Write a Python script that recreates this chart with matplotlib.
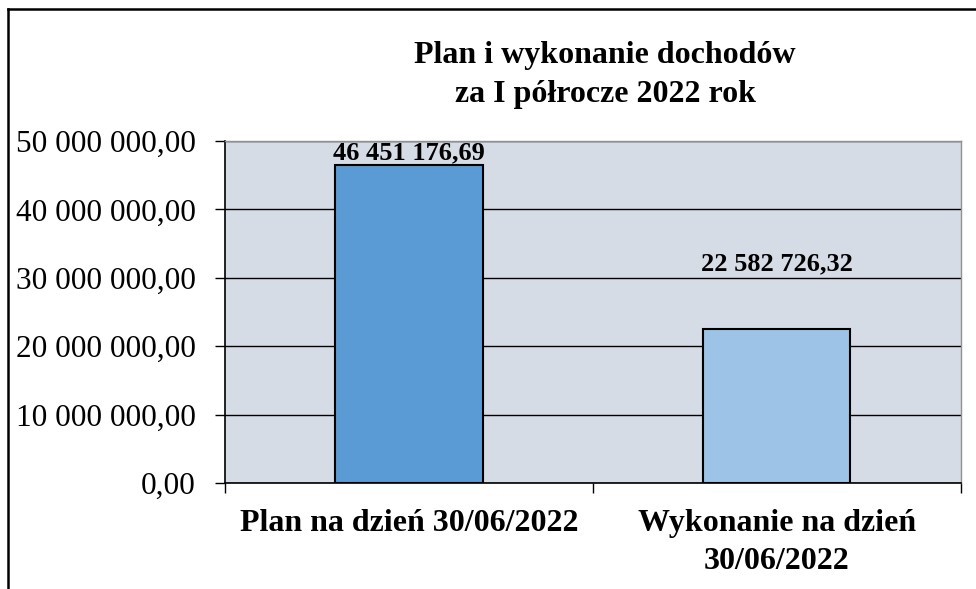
import matplotlib.pyplot as plt
from matplotlib.lines import Line2D
from matplotlib.ticker import FuncFormatter

categories = ["Plan na dzień 30/06/2022", "Wykonanie na dzień\n30/06/2022"]
values = [46451176.69, 22582726.32]
value_labels = ["46 451 176,69", "22 582 726,32"]
bar_colors = ["#5B9BD5", "#9DC3E6"]
label_offsets = [1, 38]  # points above bar top
yticks = [0, 10000000, 20000000, 30000000, 40000000, 50000000]

plt.rcParams["font.family"] = ["Liberation Serif", "DejaVu Serif"]


def pl_fmt(v, pos=None):
    s = "{:,.2f}".format(v)
    return s.replace(",", " ").replace(".", ",")


fig = plt.figure(figsize=(9.76, 5.89), dpi=100)
ax = fig.add_axes([0.2305, 0.18, 0.754, 0.5806])
ax.set_facecolor("#D6DCE5")

x = range(len(values))
ax.bar(x, values, width=0.4, color=bar_colors, edgecolor="black", linewidth=1.5, zorder=3)

for i, v in enumerate(values):
    ax.annotate(value_labels[i], (i, v), xytext=(0, label_offsets[i]), textcoords="offset points",
                ha="center", va="bottom", fontsize=19, fontweight="bold", zorder=4)

ax.set_xlim(-0.5, 1.5)
ax.set_ylim(0, 50000000)
ax.set_yticks(yticks)
ax.yaxis.set_major_formatter(FuncFormatter(pl_fmt))
ax.grid(axis="y", color="black", linewidth=1, zorder=1)
ax.set_axisbelow(True)

ax.set_xticks(list(x))
ax.set_xticklabels(categories, fontsize=23, fontweight="bold", linespacing=1.38)
ax.set_xticks([-0.5, 0.5, 1.5], minor=True)
ax.tick_params(axis="x", which="major", length=0, pad=19)
ax.tick_params(axis="x", which="minor", length=7, width=1, color="black", direction="out")
ax.tick_params(axis="y", length=7, width=1, pad=14, labelsize=22.5, direction="out")

for side in ["top", "right"]:
    ax.spines[side].set_color("#909090")
    ax.spines[side].set_linewidth(1)
for side in ["left", "bottom"]:
    ax.spines[side].set_color("black")
    ax.spines[side].set_linewidth(1.2)

fig.text(0.62, 0.872, "Plan i wykonanie dochodów\nza I półrocze 2022 rok", ha="center", va="center",
         fontsize=23, fontweight="bold", linespacing=1.45)

# outer frame (left and top edges visible in the crop)
fig.add_artist(Line2D([0.0085, 0.0085], [0.0, 0.985], color="black", linewidth=1.8, transform=fig.transFigure))
fig.add_artist(Line2D([0.0085, 1.0], [0.985, 0.985], color="black", linewidth=1.8, transform=fig.transFigure))

fig.savefig("out.png", dpi=100)
